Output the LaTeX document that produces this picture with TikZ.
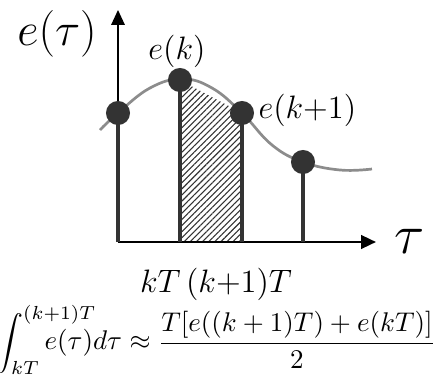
\documentclass[tikz,border=0pt]{standalone}
\usepackage{amsmath,amssymb}
\usepackage{xcolor}
\usetikzlibrary{arrows.meta,patterns.meta}
\definecolor{stemgray}{RGB}{51,51,51}
\definecolor{curvegray}{RGB}{140,140,140}

\begin{document}
\begin{tikzpicture}[x=0.37pt, y=-0.37pt,
    dot/.style={circle, fill=stemgray, inner sep=0pt, minimum size=8.9pt},
    stem/.style={draw=stemgray, line width=1.6pt},
    axis/.style={-{Triangle[length=5.5pt, width=5pt]}, black},
    lbl/.style={inner sep=0pt, font=\fontsize{13}{15}\selectfont}
]
\useasboundingbox (0,0) rectangle (435,383);

% sample points and their feet on the time axis
\coordinate (c0) at (118,113);
\coordinate (c1) at (180,80);
\coordinate (c2) at (242,113);
\coordinate (c3) at (303,162);
\coordinate (b0) at (118,242);
\coordinate (b1) at (180,242);
\coordinate (b2) at (242,242);
\coordinate (b3) at (303,242);

% trapezoid under the step
\fill[pattern={Lines[angle=45, distance=1.6pt, line width=0.4pt]}, pattern color=stemgray]
    (c1) -- (c2) -- (b2) -- (b1) -- cycle;

% axes
\coordinate (ytip) at (118,10);
\coordinate (xtip) at (376,242);
\draw[axis, line width=0.5pt] (b0) -- (ytip);
\draw[axis, line width=0.9pt] (b0) -- (xtip);

% continuous signal
\draw[curvegray, line width=1pt] plot[smooth, tension=0.7] coordinates
    {(100,130) (c0) (150,88) (182,79) (212,88) (c2) (272,145) (c3) (340,170) (372,169)};

\node[dot] (p0) at (c0) {};
\node[dot] (p1) at (c1) {};
\node[dot] (p2) at (c2) {};
\node[dot] (p3) at (c3) {};

\draw[stem] (p0.center) -- (b0);
\draw[stem] (p1.center) -- (b1);
\draw[stem] (p2.center) -- (b2);
\draw[stem] (p3.center) -- (b3);

\node[lbl, font=\fontsize{18}{20}\selectfont] (etau) at (57,34) {$e(\tau)$};
\node[lbl] (ek) at (177,51) {$e(k)$};
\node[lbl, anchor=west] (ek1) at (258,110) {$e(k{+}1)$};
\node[lbl, font=\fontsize{22}{24}\selectfont] (tau) at (410,241) {$\tau$};
\node[lbl] (ticks) at (216,284) {$kT\,(k{+}1)T$};
\node[inner sep=0pt] (integral) at (216,340)
    {$\displaystyle\int_{kT}^{\rlap{$\scriptstyle(k+1)T$}} e(\tau)d\tau \approx \frac{T[e((k+1)T)+e(kT)]}{2}$};
\end{tikzpicture}
\end{document}
